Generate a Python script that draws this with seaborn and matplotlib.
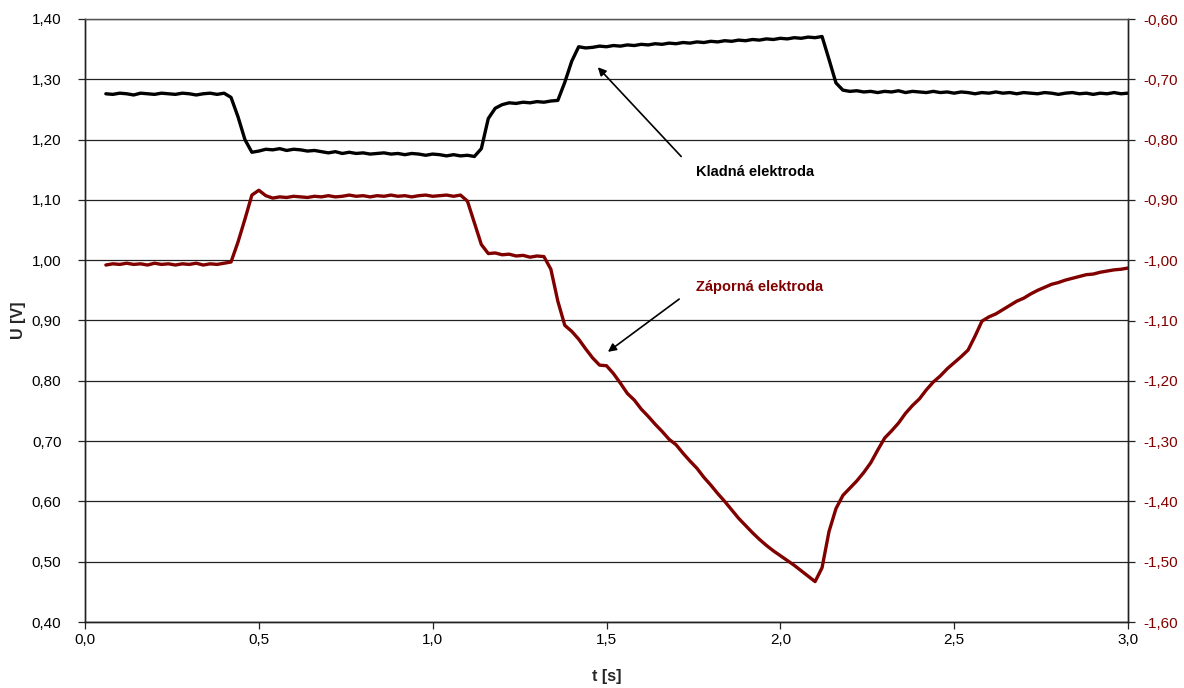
import numpy as np
import matplotlib
matplotlib.use("Agg")
import matplotlib.pyplot as plt
from matplotlib.ticker import FuncFormatter, MultipleLocator
import seaborn as sns

# Time axis [s], sampled every 20 ms
t = np.round(np.arange(0.06, 3.0001, 0.02), 2)

# Positive electrode potential [V] (left axis)
kladna = [
    1.276, 1.275, 1.277, 1.276, 1.274, 1.277, 1.276, 1.275, 1.277, 1.276,
    1.275, 1.277, 1.276, 1.274, 1.276, 1.277, 1.275, 1.277, 1.270, 1.238,
    1.200, 1.179, 1.181, 1.184, 1.183, 1.185, 1.182, 1.184, 1.183, 1.181,
    1.182, 1.180, 1.178, 1.180, 1.177, 1.179, 1.177, 1.178, 1.176, 1.177,
    1.178, 1.176, 1.177, 1.175, 1.177, 1.176, 1.174, 1.176, 1.175, 1.173,
    1.175, 1.173, 1.174, 1.172, 1.185, 1.235, 1.252, 1.258, 1.261, 1.260,
    1.262, 1.261, 1.263, 1.262, 1.264, 1.265, 1.295, 1.330, 1.354, 1.352,
    1.353, 1.355, 1.354, 1.356, 1.355, 1.357, 1.356, 1.358, 1.357, 1.359,
    1.358, 1.360, 1.359, 1.361, 1.360, 1.362, 1.361, 1.363, 1.362, 1.364,
    1.363, 1.365, 1.364, 1.366, 1.365, 1.367, 1.366, 1.368, 1.367, 1.369,
    1.368, 1.370, 1.369, 1.371, 1.333, 1.294, 1.282, 1.280, 1.281, 1.279,
    1.280, 1.278, 1.280, 1.279, 1.281, 1.278, 1.280, 1.279, 1.278, 1.280,
    1.278, 1.279, 1.277, 1.279, 1.278, 1.276, 1.278, 1.277, 1.279, 1.277,
    1.278, 1.276, 1.278, 1.277, 1.276, 1.278, 1.277, 1.275, 1.277, 1.278,
    1.276, 1.277, 1.275, 1.277, 1.276, 1.278, 1.276, 1.277,
]

# Negative electrode potential [V] (right axis)
zaporna = [
    -1.008, -1.006, -1.007, -1.005, -1.007, -1.006, -1.008, -1.005, -1.007, -1.006,
    -1.008, -1.006, -1.007, -1.005, -1.008, -1.006, -1.007, -1.005, -1.003, -0.970,
    -0.932, -0.892, -0.884, -0.893, -0.897, -0.895, -0.896, -0.894, -0.895, -0.896,
    -0.894, -0.895, -0.893, -0.895, -0.894, -0.892, -0.894, -0.893, -0.895, -0.893,
    -0.894, -0.892, -0.894, -0.893, -0.895, -0.893, -0.892, -0.894, -0.893, -0.892,
    -0.894, -0.892, -0.902, -0.938, -0.974, -0.989, -0.988, -0.991, -0.990, -0.993,
    -0.992, -0.995, -0.993, -0.994, -1.015, -1.068, -1.108, -1.118, -1.131, -1.147,
    -1.162, -1.174, -1.175, -1.188, -1.204, -1.221, -1.232, -1.247, -1.259, -1.272,
    -1.284, -1.297, -1.306, -1.320, -1.333, -1.345, -1.360, -1.373, -1.387, -1.400,
    -1.414, -1.428, -1.440, -1.452, -1.463, -1.473, -1.482, -1.490, -1.498, -1.506,
    -1.515, -1.524, -1.533, -1.510, -1.450, -1.412, -1.390, -1.378, -1.366, -1.352,
    -1.336, -1.315, -1.295, -1.283, -1.270, -1.254, -1.241, -1.230, -1.215, -1.202,
    -1.192, -1.180, -1.170, -1.160, -1.149, -1.126, -1.101, -1.094, -1.089, -1.082,
    -1.075, -1.068, -1.063, -1.056, -1.050, -1.045, -1.040, -1.037, -1.033, -1.030,
    -1.027, -1.024, -1.023, -1.020, -1.018, -1.016, -1.015, -1.013,
]

DARK_RED = "#800000"

sns.set_theme(style="white")
plt.rcParams["font.family"] = ["Liberation Sans", "DejaVu Sans"]

fig = plt.figure(figsize=(11.84, 6.88), dpi=100)
ax = fig.add_axes([85 / 1184, 1 - 622 / 688, (1128 - 85) / 1184, (622 - 19) / 688])
ax2 = ax.twinx()

sns.lineplot(x=t, y=kladna, ax=ax, color="black", lw=2.4)
sns.lineplot(x=t, y=zaporna, ax=ax2, color=DARK_RED, lw=2.4)

ax.set_xlim(0, 3.0)
ax.set_ylim(0.40, 1.40)
ax2.set_ylim(-1.60, -0.60)

ax.xaxis.set_major_locator(MultipleLocator(0.5))
ax.yaxis.set_major_locator(MultipleLocator(0.1))
ax2.yaxis.set_major_locator(MultipleLocator(0.1))

ax.xaxis.set_major_formatter(FuncFormatter(lambda v, p: f"{v:.1f}".replace(".", ",")))
ax.yaxis.set_major_formatter(FuncFormatter(lambda v, p: f"{v:.2f}".replace(".", ",")))
ax2.yaxis.set_major_formatter(FuncFormatter(lambda v, p: f"{v:.2f}".replace(".", ",")))

ax.yaxis.grid(True, color="#222222", lw=0.9)
ax.xaxis.grid(False)
ax2.grid(False)
ax.set_axisbelow(True)

for a in (ax, ax2):
    for side in ("left", "right", "bottom"):
        a.spines[side].set_color("#222222")
        a.spines[side].set_linewidth(1.0)
    a.spines["top"].set_color("#555555")
    a.spines["top"].set_linewidth(0.9)

ax.tick_params(axis="both", which="major", direction="out", length=5, width=0.9,
               color="#222222", labelsize=11, labelcolor="black")
ax.tick_params(axis="x", pad=3, bottom=True)
ax.tick_params(axis="y", pad=12, left=True)
ax2.tick_params(axis="y", direction="out", length=5, width=0.9, color="#222222",
                labelsize=11, labelcolor=DARK_RED, right=True, pad=6)

ax.set_xlabel("t [s]", fontsize=11.5, fontweight="bold", labelpad=16)
ax.set_ylabel("U [V]", fontsize=11.5, fontweight="bold", labelpad=4)
ax2.set_ylabel("")

ax.annotate("Kladná elektroda", xy=(1.475, 1.320), xytext=(1.757, 1.146),
            fontsize=10.5, fontweight="bold", color="black", va="center", ha="left",
            arrowprops=dict(arrowstyle="-|>", color="black", lw=1.2,
                            mutation_scale=12, shrinkA=12, shrinkB=0,
                            relpos=(0, 0.5)))
ax.annotate("Záporná elektroda", xy=(1.504, 0.848), xytext=(1.757, 0.956),
            fontsize=10.5, fontweight="bold", color=DARK_RED, va="center", ha="left",
            arrowprops=dict(arrowstyle="-|>", color="black", lw=1.2,
                            mutation_scale=12, shrinkA=12, shrinkB=0,
                            relpos=(0, 0.5)))

fig.savefig("out.png", dpi=100)
